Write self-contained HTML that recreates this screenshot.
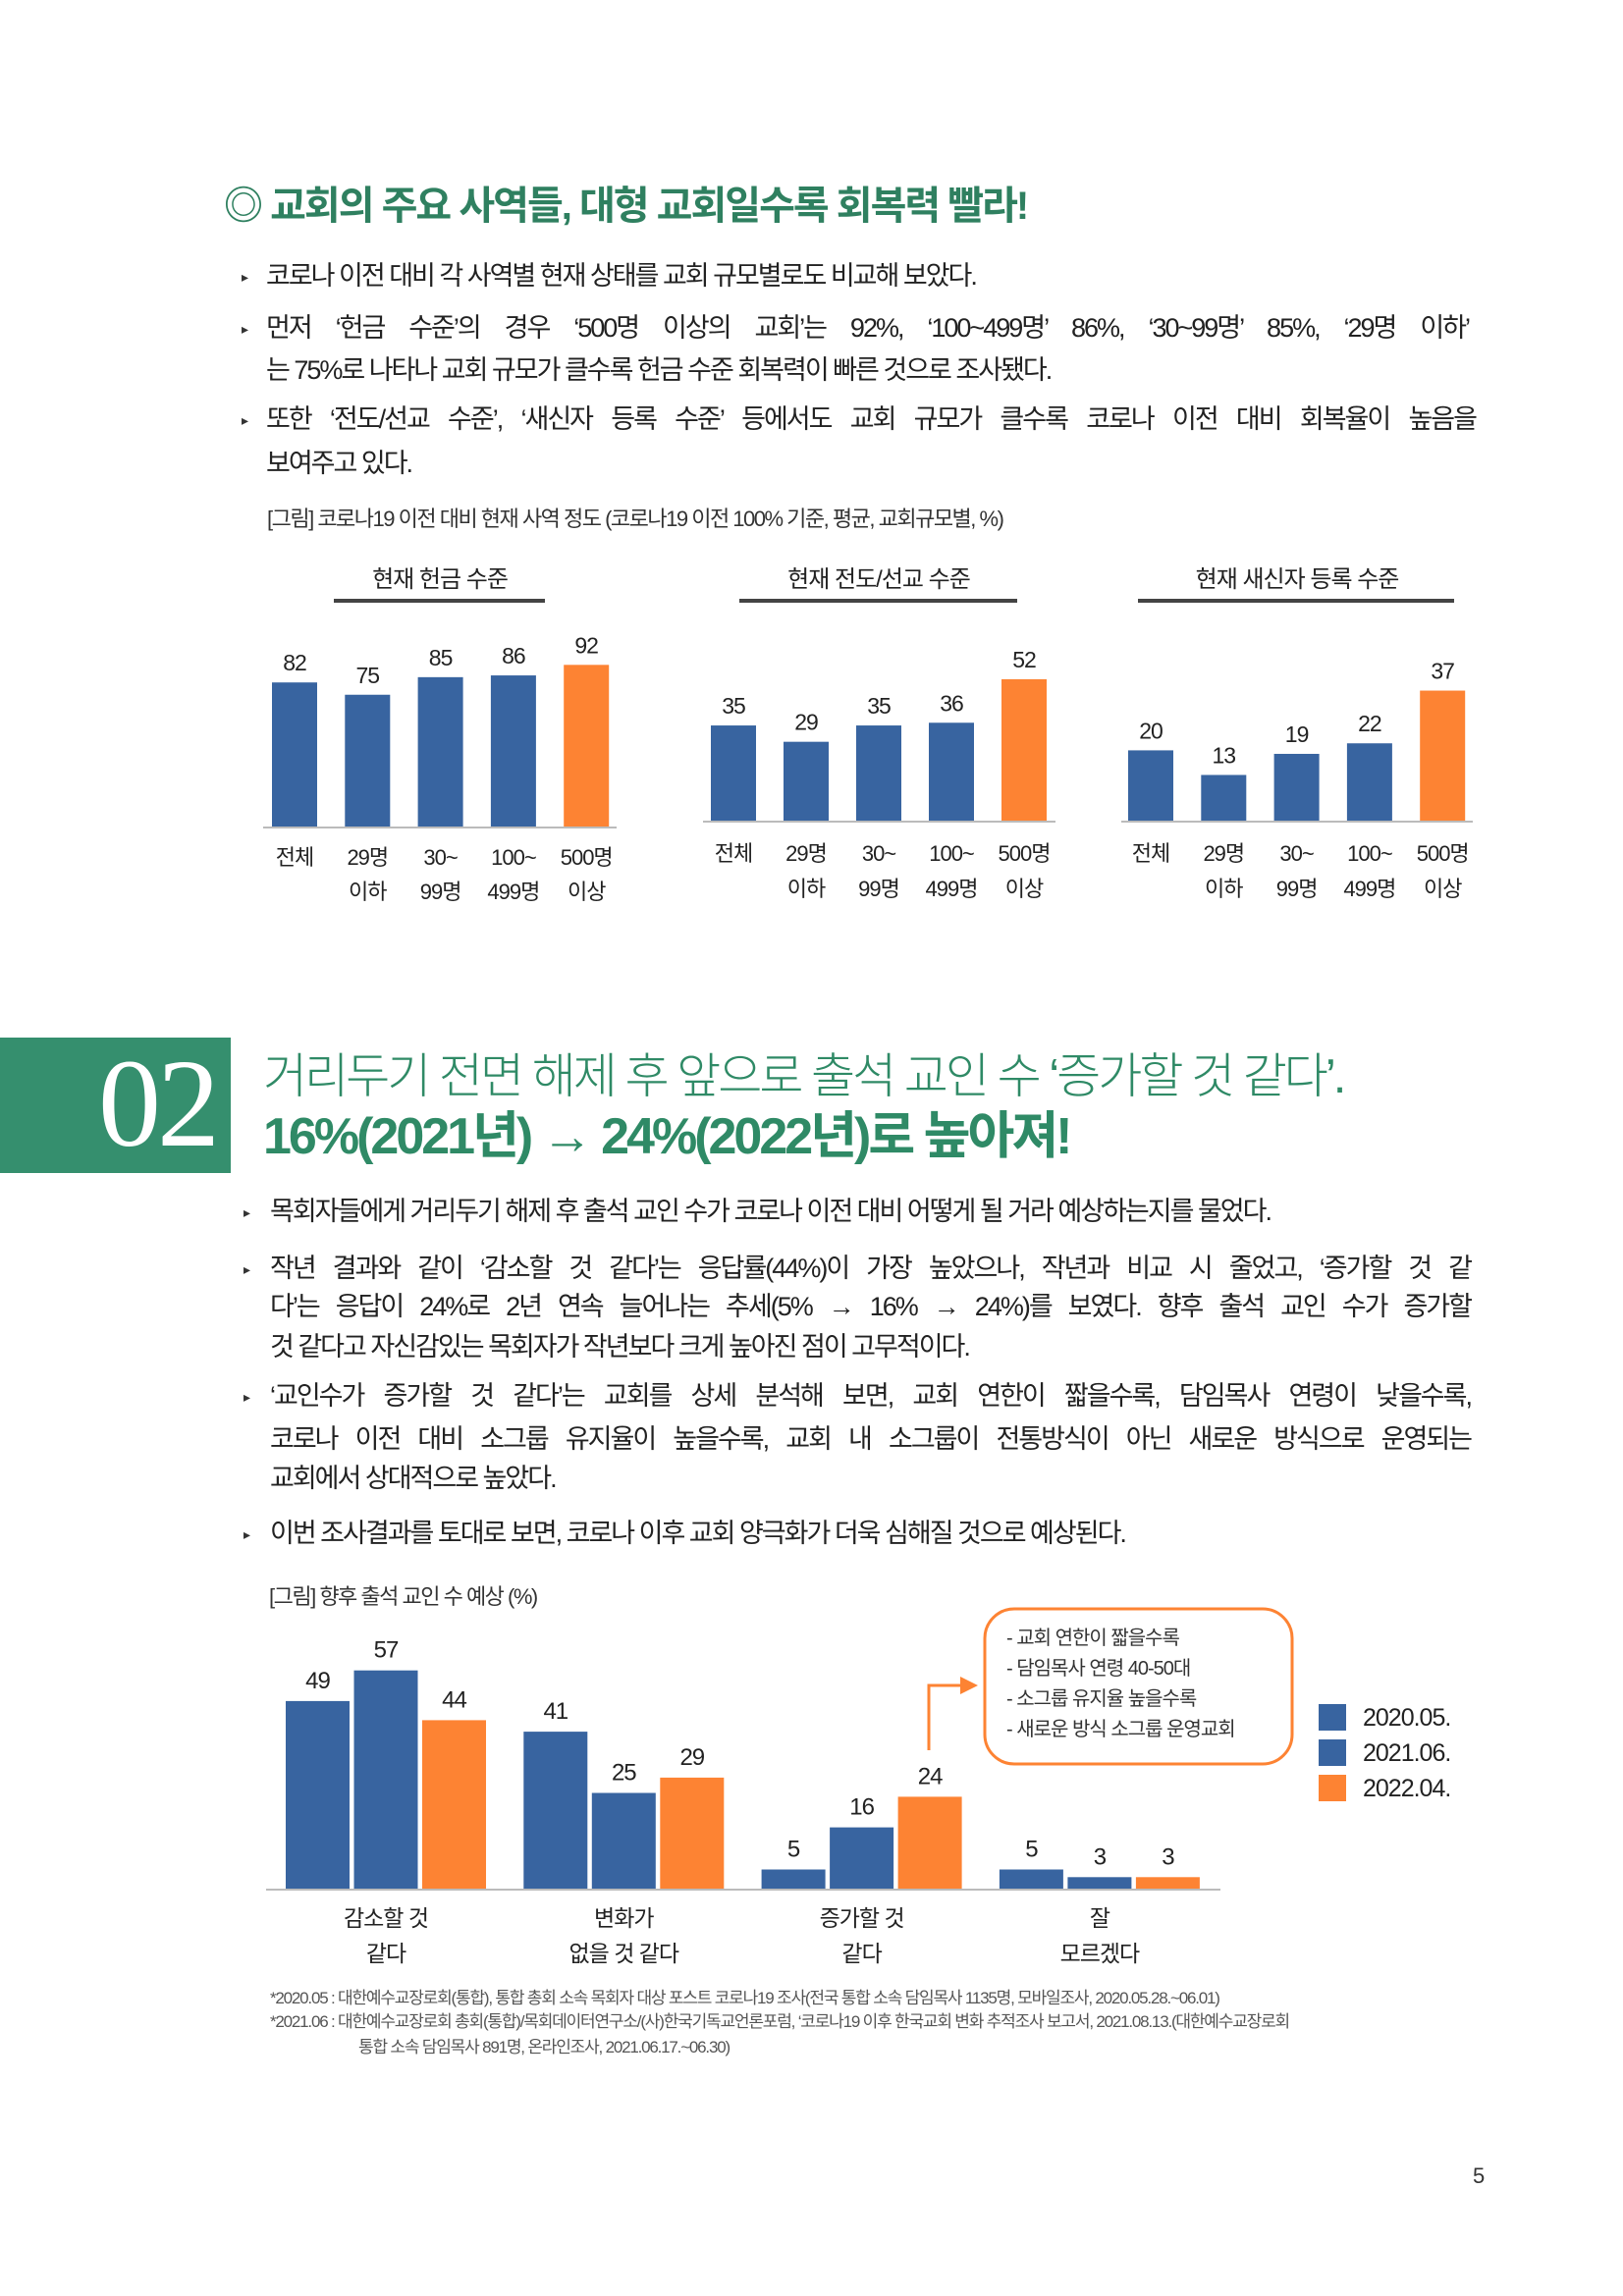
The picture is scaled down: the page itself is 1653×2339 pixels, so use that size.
<!DOCTYPE html>
<html><head><meta charset="utf-8">
<style>
html,body{margin:0;padding:0;background:#fff}
#page{position:relative;width:1653px;height:2339px;overflow:hidden;font-family:"Liberation Sans","Noto Sans CJK KR",sans-serif;color:#222}
.t{position:absolute;white-space:nowrap;line-height:1}
.b{font-size:27px;letter-spacing:-2px;color:#222}
.j{text-align:justify;text-align-last:justify}
.bul{position:absolute;font-size:14px;color:#333;line-height:1}
svg text{font-family:"Liberation Sans","Noto Sans CJK KR",sans-serif}
</style></head><body>
<div id="page">

<div class="t" style="left:228px;top:190px;font-size:40px;font-weight:bold;color:#2f8060;letter-spacing:-2px">◎ 교회의 주요 사역들, 대형 교회일수록 회복력 빨라!</div>

<div class="bul" style="left:246px;top:275px">▸</div>
<div class="t b" style="left:271px;top:268px">코로나 이전 대비 각 사역별 현재 상태를 교회 규모별로도 비교해 보았다.</div>
<div class="bul" style="left:246px;top:328px">▸</div>
<div class="t b j" style="left:271px;top:321px;width:1225px">먼저 ‘헌금 수준’의 경우 ‘500명 이상의 교회’는 92%, ‘100~499명’ 86%, ‘30~99명’ 85%, ‘29명 이하’</div>
<div class="t b" style="left:271px;top:364px">는 75%로 나타나 교회 규모가 클수록 헌금 수준 회복력이 빠른 것으로 조사됐다.</div>
<div class="bul" style="left:246px;top:421px">▸</div>
<div class="t b j" style="left:271px;top:414px;width:1232px">또한 ‘전도/선교 수준’, ‘새신자 등록 수준’ 등에서도 교회 규모가 클수록 코로나 이전 대비 회복율이 높음을</div>
<div class="t b" style="left:271px;top:459px">보여주고 있다.</div>

<div class="t" style="left:272px;top:518px;font-size:22px;letter-spacing:-1.5px;color:#333">[그림] 코로나19 이전 대비 현재 사역 정도 (코로나19 이전 100% 기준, 평균, 교회규모별, %)</div>

<div style="position:absolute;left:0;top:1057px;width:235px;height:138px;background:#358f6e"></div>
<div class="t" style="left:100px;top:1060px;font-family:'Liberation Serif',serif;font-size:128px;color:#fff;letter-spacing:-4px">02</div>
<div class="t" style="left:268px;top:1073px;font-size:49px;color:#2f8a66;letter-spacing:-3px;font-weight:300">거리두기 전면 해제 후 앞으로 출석 교인 수 ‘증가할 것 같다’.</div>
<div class="t" style="left:268px;top:1132px;font-size:52px;color:#2f8a66;letter-spacing:-3px;font-weight:bold">16%(2021년) → 24%(2022년)로 높아져!</div>

<div class="bul" style="left:248px;top:1228px">▸</div>
<div class="t b" style="left:275px;top:1221px">목회자들에게 거리두기 해제 후 출석 교인 수가 코로나 이전 대비 어떻게 될 거라 예상하는지를 물었다.</div>
<div class="bul" style="left:248px;top:1286px">▸</div>
<div class="t b j" style="left:275px;top:1279px;width:1223px">작년 결과와 같이 ‘감소할 것 같다’는 응답률(44%)이 가장 높았으나, 작년과 비교 시 줄었고, ‘증가할 것 같</div>
<div class="t b j" style="left:275px;top:1318px;width:1223px">다’는 응답이 24%로 2년 연속 늘어나는 추세(5% → 16% → 24%)를 보였다. 향후 출석 교인 수가 증가할</div>
<div class="t b" style="left:275px;top:1359px">것 같다고 자신감있는 목회자가 작년보다 크게 높아진 점이 고무적이다.</div>
<div class="bul" style="left:248px;top:1416px">▸</div>
<div class="t b j" style="left:275px;top:1409px;width:1223px">‘교인수가 증가할 것 같다’는 교회를 상세 분석해 보면, 교회 연한이 짧을수록, 담임목사 연령이 낮을수록,</div>
<div class="t b j" style="left:275px;top:1453px;width:1223px">코로나 이전 대비 소그룹 유지율이 높을수록, 교회 내 소그룹이 전통방식이 아닌 새로운 방식으로 운영되는</div>
<div class="t b" style="left:275px;top:1493px">교회에서 상대적으로 높았다.</div>
<div class="bul" style="left:248px;top:1556px">▸</div>
<div class="t b" style="left:275px;top:1549px">이번 조사결과를 토대로 보면, 코로나 이후 교회 양극화가 더욱 심해질 것으로 예상된다.</div>

<div class="t" style="left:274px;top:1616px;font-size:22px;letter-spacing:-1.5px;color:#333">[그림] 향후 출석 교인 수 예상 (%)</div>

<div class="t" style="left:275px;top:2027px;font-size:17px;letter-spacing:-1.2px;color:#555">*2020.05 : 대한예수교장로회(통합), 통합 총회 소속 목회자 대상 포스트 코로나19 조사(전국 통합 소속 담임목사 1135명, 모바일조사, 2020.05.28.~06.01)</div>
<div class="t" style="left:275px;top:2051px;font-size:17px;letter-spacing:-1.2px;color:#555">*2021.06 : 대한예수교장로회 총회(통합)/목회데이터연구소/(사)한국기독교언론포럼, ‘코로나19 이후 한국교회 변화 추적조사 보고서, 2021.08.13.(대한예수교장로회</div>
<div class="t" style="left:365px;top:2077px;font-size:17px;letter-spacing:-1.2px;color:#555">통합 소속 담임목사 891명, 온라인조사, 2021.06.17.~06.30)</div>

<div class="t" style="left:1500px;top:2206px;font-size:22px;color:#333">5</div>

<svg id="charts" width="1653" height="2339" style="position:absolute;left:0;top:0"></svg>
</div>

<script>
// Small charts data
const smallCats1 = ['전체','29명','30~','100~','500명'];
const smallCats2 = ['','이하','99명','499명','이상'];
const cashValues = [82, 75, 85, 86, 92];
const evangValues = [35, 29, 35, 36, 52];
const newcomerValues = [20, 13, 19, 22, 37];
const smallTitles = ['현재 헌금 수준','현재 전도/선교 수준','현재 새신자 등록 수준'];

// Big chart data
const bigCatsLine1 = ['감소할 것','변화가','증가할 것','잘'];
const bigCatsLine2 = ['같다','없을 것 같다','같다','모르겠다'];
const series2020 = [49, 41, 5, 5];
const series2021 = [57, 25, 16, 3];
const series2022 = [44, 29, 24, 3];
const seriesNames = ['2020.05.','2021.06.','2022.04.'];
const calloutLines = ['- 교회 연한이 짧을수록','- 담임목사 연령 40-50대','- 소그룹 유지율 높을수록','- 새로운 방식 소그룹 운영교회'];

const BLUE='#3864a0', ORANGE='#fd8333';
const svg=document.getElementById('charts');
const NS='http://www.w3.org/2000/svg';
function mk(tag, attrs, parent){const e=document.createElementNS(NS,tag);for(const k in attrs)e.setAttribute(k,attrs[k]);(parent||svg).appendChild(e);return e;}
function txt(s,x,y,size,anchor,parent,fill){const e=mk('text',{x:x,y:y,'font-size':size,'text-anchor':anchor||'middle',fill:fill||'#222','letter-spacing':'-1'},parent);e.textContent=s;return e;}

const smallCfg=[
 {vals:cashValues,base:842,k:1.79,x0:300,step:74.3,lx1:268,lx2:628,tx:448,ul1:340,ul2:555,c1y:881,c2y:916},
 {vals:evangValues,base:836,k:2.77,x0:747,step:74,lx1:716,lx2:1075,tx:895,ul1:753,ul2:1036,c1y:877,c2y:913},
 {vals:newcomerValues,base:836,k:3.58,x0:1172,step:74.3,lx1:1142,lx2:1500,tx:1321,ul1:1159,ul2:1481,c1y:877,c2y:913}
];
smallCfg.forEach((c,ci)=>{
  const g=mk('g',{});
  
  
  const t=txt(smallTitles[ci],c.tx,598,24,'middle',g);
  
  
  const ul=mk('rect',{x:c.ul1,y:610,width:c.ul2-c.ul1,height:4,fill:'#444'},g);
  
  
  const y=v=>c.base-v*c.k;
  c.vals.forEach((v,i)=>{
    const cx=c.x0+i*c.step;
    const r=mk('rect',{x:cx-23,y:y(v),width:46,height:c.base-y(v),fill:i===4?ORANGE:BLUE},g);
    
    
    const l=txt(String(v),cx,y(v)-12,23,'middle',g);
    
    
    const a=txt(smallCats1[i],cx,c.c1y,22,'middle',g);
    
    
    const b=txt(smallCats2[i],cx,c.c2y,22,'middle',g);
    
    
  });
  const ax=mk('line',{x1:c.lx1,x2:c.lx2,y1:c.base+1,y2:c.base+1,stroke:'#bbb','stroke-width':2},g);
  
  
});

// Big chart
const BB=1924, BK=3.9, G0=393, GS=242.3, BW=65, BS=69.5;
const by=v=>BB-v*BK;
const allSeries=[series2020,series2021,series2022];
const colors=[BLUE,BLUE,ORANGE];
const bg=mk('g',{});


bigCatsLine1.forEach((c,gi)=>{
  const gc=G0+gi*GS;
  allSeries.forEach((s,si)=>{
    const cx=gc+(si-1)*BS;
    const v=s[gi];
    const r=mk('rect',{x:cx-BW/2,y:by(v),width:BW,height:BB-by(v),fill:colors[si]},bg);
    
    
    const l=txt(String(v),cx,by(v)-13,24,'middle',bg);
    
    
  });
  const a=txt(c,gc,1962,23,'middle',bg);
  
  
  const b=txt(bigCatsLine2[gi],gc,1998,23,'middle',bg);
  
  
});
const bax=mk('line',{x1:271,x2:1243,y1:BB+1,y2:BB+1,stroke:'#bbb','stroke-width':2},bg);



// Legend
seriesNames.forEach((n,i)=>{
  const yy=1736+i*36;
  const sq=mk('rect',{x:1343,y:yy,width:28,height:27,fill:colors[i]},bg);
  
  
  const t=txt(n,1388,yy+22,25,'start',bg);
  
  
});

// Callout
const box=mk('rect',{x:1003,y:1639,width:313,height:158,rx:30,ry:30,fill:'#fff',stroke:ORANGE,'stroke-width':3},bg);


calloutLines.forEach((s,i)=>{
  const t=txt(s,1025,1675+i*31,20,'start',bg,'#333');
  
  
});
const arr=mk('path',{d:'M946 1783 L946 1717 L980 1717',fill:'none',stroke:ORANGE,'stroke-width':3},bg);


const ah=mk('path',{d:'M978 1708 L996 1717 L978 1726 Z',fill:ORANGE},bg);


</script>
</body></html>
